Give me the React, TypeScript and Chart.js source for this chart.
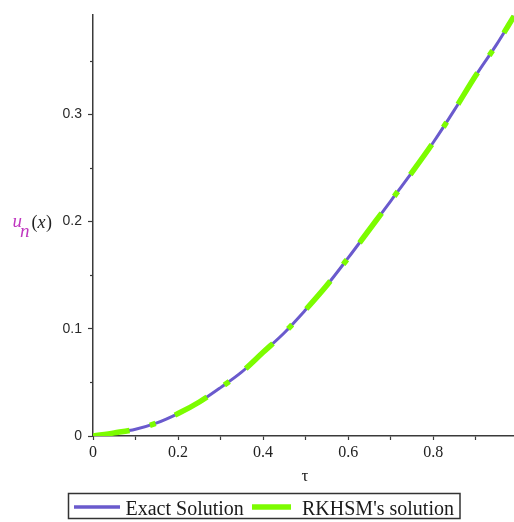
import React, { useEffect, useRef } from "react";
import { Chart, registerables } from "chart.js";

Chart.register(...registerables);

// ---- data ----
const tauValues = [0, 0.05, 0.1, 0.15, 0.2, 0.25, 0.3, 0.35, 0.4, 0.45, 0.5, 0.55, 0.6, 0.65, 0.7, 0.75, 0.8, 0.85, 0.9, 0.95, 0.99];
const exactValues = [0, 0.0029, 0.0063, 0.0122, 0.0209, 0.0317, 0.0451, 0.0597, 0.078, 0.0963, 0.1177, 0.1405, 0.166, 0.1925, 0.219, 0.2457, 0.2736, 0.304, 0.336, 0.3655, 0.3914];
const rkhsmValues = [0, 0.0029, 0.0063, 0.0122, 0.0209, 0.0317, 0.0451, 0.0597, 0.078, 0.0963, 0.1177, 0.1405, 0.166, 0.1925, 0.219, 0.2457, 0.2736, 0.304, 0.336, 0.3655, 0.3914];
const seriesNames = ["Exact Solution", "RKHSM's solution"];
const xTickLabels = ["0", "0.2", "0.4", "0.6", "0.8"];
const yTickLabels = ["0", "0.1", "0.2", "0.3"];

const AXIS = "#3a3a3a";
const BLUE = "#6a5acd";
const GREEN = "#7cfc00";
const MAGENTA = "#c038c0";

const isMult = (v: number, step: number) => Math.abs(v / step - Math.round(v / step)) < 1e-6;

const overlayPlugin = {
  id: "overlay",
  afterDraw(chart: any) {
    const ctx = chart.ctx as CanvasRenderingContext2D;
    const area = chart.chartArea;
    const ys = chart.scales.y;
    ctx.save();
    // minor y ticks
    ctx.strokeStyle = AXIS;
    ctx.lineWidth = 1.2;
    ys.ticks.forEach((t: any) => {
      if (!isMult(t.value, 0.1)) {
        const py = Math.round(ys.getPixelForValue(t.value)) + 0.5;
        ctx.beginPath();
        ctx.moveTo(area.left - 3, py);
        ctx.lineTo(area.left, py);
        ctx.stroke();
      }
    });

    // y axis label u_n(x)
    ctx.textBaseline = "alphabetic";
    ctx.textAlign = "left";
    ctx.fillStyle = MAGENTA;
    ctx.font = "italic 19px 'Liberation Serif', serif";
    ctx.fillText("u", 12.5, 226.5);
    ctx.fillText("n", 20, 236.5);
    ctx.fillStyle = "#222";
    ctx.font = "18px 'Liberation Serif', serif";
    ctx.fillText("(", 31.5, 227.5);
    const pw = ctx.measureText("(").width;
    ctx.font = "italic 18px 'Liberation Serif', serif";
    ctx.fillText("x", 31.5 + pw, 227.5);
    const xw = ctx.measureText("x").width;
    ctx.font = "18px 'Liberation Serif', serif";
    ctx.fillText(")", 31.5 + pw + xw + 0.5, 227.5);

    // x axis title
    ctx.textAlign = "center";
    ctx.textBaseline = "middle";
    ctx.font = "17px 'Liberation Serif', serif";
    ctx.fillStyle = "#222";
    ctx.fillText("τ", 305, 477);

    // legend
    ctx.strokeStyle = "#333";
    ctx.lineWidth = 1.5;
    ctx.strokeRect(68.5, 493.5, 391.5, 25);
    const ly = 507;
    const ds = chart.data.datasets;
    ctx.lineCap = "butt";
    ctx.strokeStyle = ds[0].borderColor;
    ctx.lineWidth = 3.5;
    ctx.beginPath();
    ctx.moveTo(74, ly);
    ctx.lineTo(120, ly);
    ctx.stroke();
    ctx.strokeStyle = ds[1].borderColor;
    ctx.lineWidth = 5.5;
    ctx.beginPath();
    ctx.moveTo(252, ly);
    ctx.lineTo(291, ly);
    ctx.stroke();
    ctx.fillStyle = "#1a1a1a";
    ctx.font = "20px 'Liberation Serif', serif";
    ctx.textAlign = "left";
    ctx.textBaseline = "alphabetic";
    ctx.fillText(ds[0].label, 125.5, 514.5);
    ctx.fillText(ds[1].label, 302, 514.5);
    ctx.restore();
  },
};

export default function App() {
  const ref = useRef<HTMLCanvasElement | null>(null);

  useEffect(() => {
    if (!ref.current) return;
    const toPts = (vals: number[]) => tauValues.map((x, i) => ({ x, y: vals[i] }));
    const chart = new Chart(ref.current, {
      type: "line",
      data: {
        datasets: [
          {
            label: seriesNames[0],
            data: toPts(exactValues),
            borderColor: BLUE,
            borderWidth: 3,
            pointRadius: 0,
            cubicInterpolationMode: "monotone",
            order: 2,
          },
          {
            label: seriesNames[1],
            data: toPts(rkhsmValues),
            borderColor: GREEN,
            borderWidth: 5.5,
            borderDash: [37, 21, 6, 21],
            borderCapStyle: "butt",
            pointRadius: 0,
            cubicInterpolationMode: "monotone",
            order: 1,
          },
        ],
      },
      options: {
        responsive: false,
        animation: false,
        devicePixelRatio: 1,
        layout: { padding: { top: 13, right: 0, bottom: 0, left: 0 } },
        plugins: { legend: { display: false }, tooltip: { enabled: false } },
        scales: {
          x: {
            type: "linear",
            min: 0,
            max: 0.99,
            afterFit: (s: any) => { s.height = 86; },
            border: { color: AXIS, width: 1.5 },
            grid: { drawOnChartArea: false, drawTicks: true, tickLength: 4, tickColor: AXIS, tickWidth: 1.2 },
            ticks: {
              stepSize: 0.1,
              includeBounds: false,
              autoSkip: false,
              maxRotation: 0,
              padding: 3,
              color: "#222",
              font: { family: "'Liberation Serif', serif", size: 16 },
              callback: (v: any) => {
                const n = Number(v);
                if (!isMult(n, 0.2)) return "";
                const idx = Math.round(n / 0.2);
                return xTickLabels[idx] ?? "";
              },
            },
          },
          y: {
            type: "linear",
            min: 0,
            max: 0.393,
            afterFit: (s: any) => { s.width = 93; },
            border: { color: AXIS, width: 1.5 },
            grid: {
              drawOnChartArea: false,
              drawTicks: true,
              tickLength: 5,
              tickWidth: 1.2,
              tickColor: (c: any) => (c.tick && isMult(c.tick.value, 0.1) ? AXIS : "rgba(0,0,0,0)"),
            },
            ticks: {
              stepSize: 0.05,
              includeBounds: false,
              autoSkip: false,
              padding: 6,
              color: "#2a2a2a",
              font: { family: "'Liberation Sans', sans-serif", size: 14 },
              callback: (v: any) => {
                const n = Number(v);
                if (!isMult(n, 0.1)) return "";
                const idx = Math.round(n / 0.1);
                return yTickLabels[idx] ?? "";
              },
            },
          },
        },
      },
      plugins: [overlayPlugin],
    } as any);
    return () => chart.destroy();
  }, []);

  return (
    <div style={{ position: "absolute", left: 0, top: 0, width: 514, height: 522, background: "#fff" }}>
      <canvas ref={ref} width={514} height={522} style={{ display: "block" }} />
    </div>
  );
}
